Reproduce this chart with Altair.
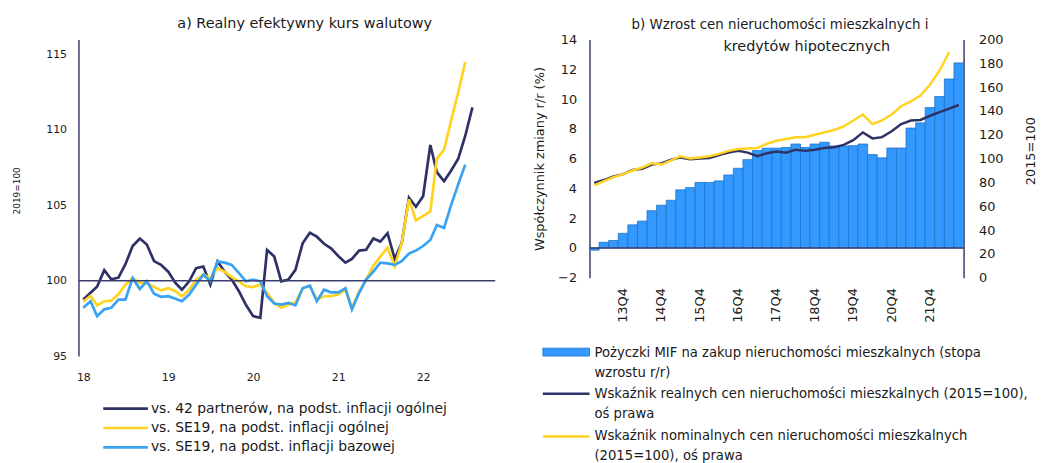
import altair as alt
import pandas as pd

FONT = "DejaVu Sans"
NAVY = "#2E3166"
YELLOW = "#FFD320"
LBLUE = "#3AA2F2"
BAR = "#3399FF"
BAR_EDGE = "#1E73C8"
AXIS = "#3B3E6E"
TXT = "#1a1a1a"

# ---------------- panel a) data (monthly, from Jan 2018) ----------------
left_title = "a) Realny efektywny kurs walutowy"
left_ytitle = "2019=100"
left_series = [
    "vs. 42 partnerów, na podst. inflacji ogólnej",
    "vs. SE19, na podst. inflacji ogólnej",
    "vs. SE19, na podst. inflacji bazowej",
]
year_ticks = [2018, 2019, 2020, 2021, 2022]
left_yticks = [95, 100, 105, 110, 115]

reer_42 = [98.75, 99.2, 99.6, 100.7, 100.1, 100.2, 101.1, 102.3, 102.8, 102.4,
           101.3, 101.05, 100.6, 99.85, 99.4, 99.96, 100.83, 100.94, 99.74, 101.27,
           100.6, 100.07, 99.3, 98.4, 97.65, 97.54, 102.04, 101.6, 99.96, 100.07,
           100.72, 102.48, 103.18, 102.92, 102.45, 102.15, 101.64, 101.2, 101.45, 102.0,
           102.05, 102.8, 102.6, 103.15, 101.45, 102.5, 105.5, 104.9, 105.6, 109.0,
           107.2, 106.6, 107.3, 108.1, 109.6, 111.5]
reer_se19_cpi = [98.6, 99.0, 98.36, 98.64, 98.68, 99.1, 99.74, 100.17, 99.85, 99.85,
                 99.58, 99.36, 99.5, 99.3, 98.97, 99.4, 100.07, 100.4, 100.17, 100.83,
                 100.6, 100.24, 99.96, 99.63, 99.58, 99.74, 99.2, 98.53, 98.2, 98.4,
                 98.57, 99.5, 99.67, 98.75, 98.97, 98.97, 99.08, 99.4, 98.2, 99.3,
                 100.07, 101.0, 101.6, 102.2, 100.95, 102.5, 105.4, 104.0, 104.3, 104.6,
                 108.1, 108.7, 110.6, 112.5, 114.5]
reer_se19_core = [98.2, 98.64, 97.65, 98.1, 98.2, 98.75, 98.75, 100.17, 99.45, 99.96,
                  99.14, 98.93, 98.97, 98.8, 98.64, 99.08, 99.74, 100.4, 99.96, 101.27,
                  101.2, 101.05, 100.5, 99.96, 100.07, 99.96, 98.97, 98.49, 98.42, 98.53,
                  98.36, 99.5, 99.67, 98.64, 99.4, 99.23, 99.23, 99.5, 98.1, 99.2,
                  100.07, 100.6, 101.2, 101.15, 101.05, 101.3, 101.8, 102.0, 102.3, 102.7,
                  103.7, 103.5, 105.0, 106.4, 107.7]

# ---------------- panel b) data (quarterly, 13Q1..22Q3) ----------------
right_title_1 = "b) Wzrost cen nieruchomości mieszkalnych i"
right_title_2 = "kredytów hipotecznych"
right_ytitle_left = "Współczynnik zmiany r/r (%)"
right_ytitle_right = "2015=100"
quarters = ["13Q1", "13Q2", "13Q3", "13Q4", "14Q1", "14Q2", "14Q3", "14Q4",
            "15Q1", "15Q2", "15Q3", "15Q4", "16Q1", "16Q2", "16Q3", "16Q4",
            "17Q1", "17Q2", "17Q3", "17Q4", "18Q1", "18Q2", "18Q3", "18Q4",
            "19Q1", "19Q2", "19Q3", "19Q4", "20Q1", "20Q2", "20Q3", "20Q4",
            "21Q1", "21Q2", "21Q3", "21Q4", "22Q1", "22Q2", "22Q3"]
loans_growth = [-0.15, 0.38, 0.5, 0.98, 1.55, 1.8, 2.5, 2.87, 3.2, 3.9,
                4.05, 4.4, 4.4, 4.5, 4.9, 5.35, 5.93, 6.55, 6.7, 6.7,
                6.75, 6.98, 6.75, 6.98, 7.1, 6.85, 6.85, 6.87, 6.98, 6.27,
                6.05, 6.71, 6.71, 8.05, 8.4, 9.43, 10.17, 11.35, 12.43]
real_prices = [79.5, 82, 85, 87, 90.5, 91.5, 95, 96, 99, 101,
               99.5, 100, 100.5, 103, 105, 106.5, 105, 102, 104.5, 106,
               105, 107.5, 106.5, 107.5, 109, 109.5, 111.5, 115.5, 122, 117,
               118, 123, 129, 132, 132.5, 136, 139, 142, 145]
nominal_prices = [77.5, 81, 84.5, 87, 90, 92.5, 96, 95, 98.5, 102,
                  100, 101, 102, 104, 106.5, 108, 108.5, 109, 112.5, 115,
                  116.5, 118, 118, 120, 122, 124, 127, 132, 137, 129,
                  132, 137, 144, 148, 153, 162, 174, 189.5]
right_series = [
    "Pożyczki MIF na zakup nieruchomości mieszkalnych (stopa wzrostu r/r)",
    "Wskaźnik realnych cen nieruchomości mieszkalnych (2015=100), oś prawa",
    "Wskaźnik nominalnych cen nieruchomości mieszkalnych (2015=100), oś prawa",
]
right_legend_lines = [
    ["Pożyczki MIF na zakup nieruchomości mieszkalnych (stopa", "wzrostu r/r)"],
    ["Wskaźnik realnych cen nieruchomości mieszkalnych (2015=100),", "oś prawa"],
    ["Wskaźnik nominalnych cen nieruchomości mieszkalnych", "(2015=100), oś prawa"],
]
left_yticks_b = [-2, 0, 2, 4, 6, 8, 10, 12, 14]
right_yticks_b = [0, 20, 40, 60, 80, 100, 120, 140, 160, 180, 200]

# ---------------- tables ----------------
dates = pd.date_range("2018-01-01", periods=len(reer_42), freq="MS")
rows = []
for name, vals in zip(left_series, [reer_42, reer_se19_cpi, reer_se19_core]):
    for d, v in zip(dates, vals):
        rows.append({"date": d, "value": v, "series": name})
df_left = pd.DataFrame(rows)

df_bars = pd.DataFrame({"quarter": quarters, "loans": loans_growth})
rows = []
for name, vals in zip(right_series[1:], [real_prices, nominal_prices]):
    for q, v in zip(quarters, vals):
        rows.append({"quarter": q, "index": v, "series_b": name})
df_lines_b = pd.DataFrame(rows)

one = pd.DataFrame({"k": [0]})

# ---------------- panel a) ----------------
W1, H1 = 420, 319
xa = alt.X(
    "date:T",
    title=None,
    scale=alt.Scale(domain=[alt.DateTime(year=2017, month=12, date=11),
                            alt.DateTime(year=2022, month=11, date=7)]),
    axis=alt.Axis(values=[alt.DateTime(year=y, month=1, date=1) for y in year_ticks],
                  format="%y", domain=False, ticks=False, grid=False,
                  labelPadding=16, labelFont=FONT, labelFontSize=11, labelColor=TXT),
)
ya = alt.Y(
    "value:Q",
    scale=alt.Scale(domain=[95, 116], nice=False, zero=False),
    axis=alt.Axis(values=left_yticks, grid=False, ticks=False, domainColor=AXIS,
                  domainWidth=1.5, labelPadding=12, labelFont=FONT, labelFontSize=11,
                  labelColor=TXT, labelOverlap=False, title=left_ytitle, titleFont=FONT,
                  titleFontSize=9, titleFontWeight="normal", titleColor=TXT, titleAngle=270,
                  titleX=-62, titleY=152, titleAlign="center", titleBaseline="middle"),
)
lines_a = alt.Chart(df_left).mark_line(strokeWidth=2.7).encode(
    x=xa, y=ya,
    color=alt.Color("series:N", scale=alt.Scale(domain=left_series,
                                                range=[NAVY, YELLOW, LBLUE]), legend=None),
)
base_a = alt.Chart(one).mark_rule(color=AXIS, strokeWidth=1.5).encode(y=alt.datum(100))
title_a = alt.Chart(one).mark_text(text=left_title, font=FONT, fontSize=14.5, color=TXT,
                                   align="center", baseline="middle").encode(
    x=alt.value(228), y=alt.value(-16))
layers_a = [lines_a, base_a, title_a]
for i, (name, col) in enumerate(zip(left_series, [NAVY, YELLOW, LBLUE])):
    yy = 372 + 19.5 * i
    layers_a.append(alt.Chart(one).mark_rule(color=col, strokeWidth=2.7).encode(
        x=alt.value(25), x2=alt.value(70), y=alt.value(yy)))
    layers_a.append(alt.Chart(one).mark_text(text=name, font=FONT, fontSize=14, color=TXT,
                                             align="left", baseline="middle").encode(
        x=alt.value(73), y=alt.value(yy)))
panel_a = alt.layer(*layers_a).properties(width=W1, height=H1)

# ---------------- panel b) ----------------
W2, H2 = 377, 240
xb = alt.X(
    "quarter:N", sort=quarters, title=None,
    scale=alt.Scale(domain=quarters, paddingInner=0, paddingOuter=0),
    axis=alt.Axis(labelExpr="indexof(datum.value, 'Q4') >= 0 ? datum.value : ''",
                  labelAngle=270, ticks=False, domain=False, grid=False, labelPadding=10,
                  labelFont=FONT, labelFontSize=13, labelColor=TXT, labelOverlap=False),
)
yb = alt.Y("loans:Q", scale=alt.Scale(domain=[-2, 14], nice=False),
           axis=alt.Axis(values=left_yticks_b, grid=False, ticks=False, domainColor=AXIS,
                         domainWidth=1.5, labelPadding=13, labelFont=FONT, labelFontSize=13,
                         labelColor=TXT, labelOverlap=False, title=right_ytitle_left,
                         titleFont=FONT, titleFontSize=13, titleFontWeight="normal",
                         titleColor=TXT, titleAngle=270, titleX=-50, titleY=120,
                         titleAlign="center", titleBaseline="middle"))
bars = alt.Chart(df_bars).mark_bar(color=BAR, stroke=BAR_EDGE, strokeWidth=0.8).encode(
    x=xb, y=yb)
zero_b = alt.Chart(pd.DataFrame({"loans": [0]})).mark_rule(
    color=AXIS, strokeWidth=1.5).encode(y=yb)
left_b = alt.layer(bars, zero_b)
lines_b = alt.Chart(df_lines_b).mark_line(strokeWidth=2.5).encode(
    x=xb,
    y=alt.Y("index:Q", scale=alt.Scale(domain=[0, 200], nice=False),
            axis=alt.Axis(orient="right", values=right_yticks_b, grid=False, ticks=False,
                          domainColor=AXIS, domainWidth=1.5, labelPadding=15, labelFont=FONT,
                          labelFontSize=13, labelColor=TXT, labelOverlap=False,
                          title=right_ytitle_right, titleFont=FONT, titleFontSize=13,
                          titleFontWeight="normal", titleColor=TXT, titleAngle=270,
                          titleX=67, titleY=112, titleAlign="center",
                          titleBaseline="middle")),
    color=alt.Color("series_b:N", scale=alt.Scale(domain=right_series[1:],
                                                  range=[NAVY, YELLOW]), legend=None),
)
deco_b = [
    alt.Chart(one).mark_text(text=right_title_1, font=FONT, fontSize=13.5, color=TXT,
                             align="center", baseline="middle").encode(
        x=alt.value(192), y=alt.value(-15)),
    alt.Chart(one).mark_text(text=right_title_2, font=FONT, fontSize=14.5, color=TXT,
                             align="center", baseline="middle").encode(
        x=alt.value(219), y=alt.value(8)),
    alt.Chart(one).mark_rect(fill=BAR, stroke=BAR_EDGE, strokeWidth=0.8).encode(
        x=alt.value(-47), x2=alt.value(0), y=alt.value(311), y2=alt.value(319)),
    alt.Chart(one).mark_rule(color=NAVY, strokeWidth=2.5).encode(
        x=alt.value(-47), x2=alt.value(0), y=alt.value(357)),
    alt.Chart(one).mark_rule(color=YELLOW, strokeWidth=2.5).encode(
        x=alt.value(-47), x2=alt.value(0), y=alt.value(400)),
]
for y0, lines in zip([316, 357, 400], right_legend_lines):
    for j, t in enumerate(lines):
        deco_b.append(alt.Chart(one).mark_text(text=t, font=FONT, fontSize=13.3, color=TXT,
                                               align="left", baseline="middle").encode(
            x=alt.value(5), y=alt.value(y0 + 20 * j)))
panel_b = alt.layer(alt.layer(left_b, lines_b).resolve_scale(y="independent"),
                    *deco_b).properties(width=W2, height=H2)

chart = alt.hconcat(panel_a, panel_b, spacing=95, bounds="flush").resolve_scale(
    color="independent", x="independent", y="independent"
).properties(padding={"left": 5, "top": 6, "right": 0, "bottom": 0}).configure_view(
    stroke=None).configure_axis(labelOverlap=False)

chart.save("out.html", embed_options={"renderer": "svg", "actions": False})
